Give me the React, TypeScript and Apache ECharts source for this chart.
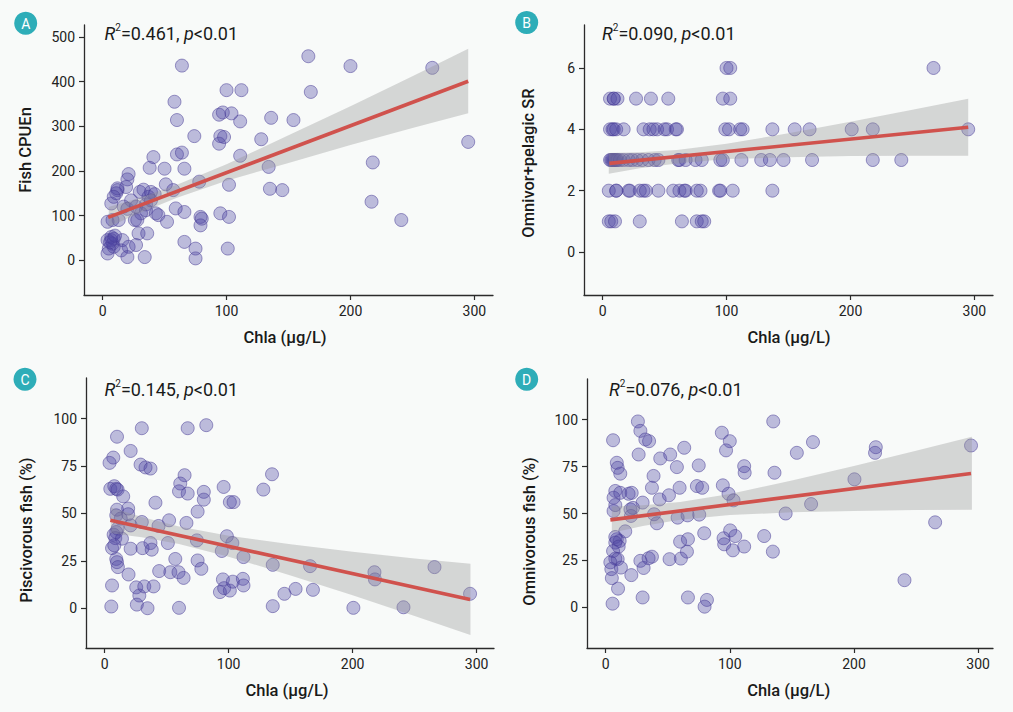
import React, { useEffect, useRef } from "react";
import * as echarts from "echarts";

// ---------- data ----------
const xTicks = [0, 100, 200, 300];
const bandX = [5, 30, 60, 100, 150, 200, 250, 295];

// Panel A: Fish CPUEn vs Chla
const cpueData: [number, number][] = [
  [64, 436], [100, 381], [112, 381], [58, 355], [60, 314], [94, 326], [97, 331], [104, 329], [111, 311], [136, 319],
  [74, 278], [95, 278], [98, 276], [94, 261], [128, 271], [60, 237], [64, 241], [111, 234], [41, 231], [38, 207],
  [50, 205], [66, 205], [134, 209], [21, 193], [20, 181], [19, 164], [78, 176], [102, 169], [135, 160], [145, 157],
  [51, 170], [57, 157], [12, 157], [11, 150], [12, 161], [30, 153], [33, 158], [39, 153], [42, 148], [37, 142],
  [23, 134], [35, 125], [39, 134], [7, 127], [9, 142], [17, 120], [20, 115], [27, 120], [31, 105], [35, 112],
  [43, 105], [45, 101], [52, 86], [4, 86], [8, 90], [13, 90], [26, 90], [28, 90], [59, 116], [66, 108],
  [79, 97], [80, 93], [79, 78], [95, 105], [102, 97], [29, 60], [36, 60], [4, 45], [7, 45], [8, 37],
  [5, 26], [9, 30], [4, 15], [15, 22], [16, 45], [21, 30], [27, 34], [20, 7], [34, 7], [66, 41],
  [75, 26], [75, 4], [101, 26], [7, 52], [9, 48], [6, 40], [10, 55],
  [166, 457], [200, 435], [266, 431], [168, 377], [154, 314], [295, 265], [218, 219], [217, 131], [241, 90],
];
const cpueFit: [number, number][] = [[4.5, 96], [295, 401]];
const cpueLower = [75, 106, 140, 178, 218, 258, 296, 329];
const cpueUpper = [119, 140, 169, 215, 280, 345, 412, 474];
const cpueTicks = [0, 100, 200, 300, 400, 500];

// Panel B: Omnivor+pelagic SR vs Chla
const srLevel6 = [100, 103, 267];
const srLevel5 = [6, 9, 9, 12, 27, 39, 53, 97, 103];
const srLevel4 = [6, 8, 9, 11, 17, 33, 38, 41, 44, 50, 52, 59, 60, 99, 102, 111, 113, 137, 155, 167, 201, 218, 295];
const srLevel3 = [6, 7, 8, 9, 10, 11, 12, 14, 17, 21, 24, 28, 32, 37, 42, 45, 61, 62, 67, 75, 80, 95, 97, 112, 128, 135, 146, 169, 218, 241];
const srLevel2 = [5, 11, 11, 21, 22, 30, 33, 35, 45, 57, 62, 66, 67, 76, 79, 94, 95, 105, 137];
const srLevel1 = [5, 7, 10, 30, 64, 76, 80, 82];
const srFit: [number, number][] = [[5.5, 2.89], [295, 4.07]];
const srLower = [2.55, 2.73, 2.89, 3.03, 3.09, 3.13, 3.14, 3.14];
const srUpper = [3.23, 3.25, 3.33, 3.53, 3.87, 4.25, 4.64, 5.0];
const srTicks = [0, 2, 4, 6];

// Panel C: Piscivorous fish (%) vs Chla
const piscData: [number, number][] = [
  [30, 95], [67, 95], [82, 96.6], [10, 90.5], [21, 83], [7, 79.5], [4, 76.7], [29, 75.8], [33, 74.3], [37, 73.7],
  [64.5, 70.2], [135, 70.7], [4.6, 63], [7.8, 64.4], [9.4, 63], [10.5, 62.6], [61, 65.8], [60, 61.7], [67, 60.5], [80, 61.4],
  [80, 57.3], [128, 62.6], [96, 64], [101, 56], [104, 56], [15, 59], [41, 55.7], [10, 52], [9.4, 49], [19, 52.6],
  [19, 49.6], [13, 47.3], [30, 45.5], [21, 43.7], [43.5, 43.4], [52, 46.4], [75, 51], [66, 45], [7.3, 38.8], [9.4, 40.2],
  [10.5, 42], [8.6, 37], [14, 36.7], [6, 31.7], [7.8, 33.2], [21, 31.4], [30.6, 31.7], [37, 34.4], [38, 30.9], [51, 34.4],
  [74.4, 35.8], [98.6, 38], [103, 34.4], [94.5, 30.2], [112, 27], [9.4, 26], [10, 24.3], [10.7, 21.7], [19.3, 17.8], [44, 19.6],
  [53, 19], [57, 26], [59.6, 19], [63.7, 16], [75, 25.2], [78, 20.8], [135.6, 22.9], [165.7, 22.2], [217.6, 19], [218, 15.2],
  [266, 21.7], [294.7, 7.6], [6, 12], [25.5, 11], [28, 6.7], [26, 1.9], [32, 11.5], [39.5, 11.5], [34.6, 0], [5.4, 0.9],
  [60, 0.2], [95.4, 15.2], [96.4, 10.6], [93, 8.5], [101, 9.3], [103.4, 14], [111.5, 15.5], [112, 12], [145, 7.6], [154, 10.2],
  [168, 9.7], [135.6, 1.1], [200.6, 0.2], [241, 0.5],
];
const piscFit: [number, number][] = [[4.6, 46.4], [294.7, 4.6]];
const piscLower = [39.6, 37.5, 33.9, 27.2, 17.3, 6.8, -4.1, -14.2];
const piscUpper = [53.2, 48.1, 43.1, 38.2, 33.7, 29.8, 26.3, 23.4];
const pctTicks = [0, 25, 50, 75, 100];

// Panel D: Omnivorous fish (%) vs Chla
const omniData: [number, number][] = [
  [26, 99], [28, 94], [135, 99], [6, 89], [32, 89.4], [35, 88.5], [93.6, 93], [100, 88.5], [97, 83.6], [167, 88],
  [154, 82.3], [217.6, 85.3], [217, 82.3], [294.3, 86.2], [26.6, 81.4], [44, 79.3], [52, 81.4], [63.3, 85], [9, 77], [9.7, 74.3],
  [11.8, 71.2], [57.4, 74.7], [75, 75.6], [111.6, 75.2], [112, 71.7], [136, 71.7], [38.6, 70], [37.3, 63.7], [59.6, 63.7], [73.5, 64.6],
  [77.8, 63.7], [94.4, 65], [99, 60.5], [103, 57], [7.8, 62], [6.4, 58.4], [11.8, 61], [18.5, 60.5], [21, 61], [29.8, 55.8],
  [43.5, 57.5], [51, 59.7], [6.4, 51.3], [7.8, 54.5], [20, 52.2], [20.4, 48.7], [22, 53], [39, 49.6], [41.3, 44.8], [58, 47.8],
  [66, 49], [75.4, 49.4], [15.8, 40.5], [200.4, 68.2], [165.5, 55], [145, 50], [265.4, 45.3], [7.8, 37.5], [9, 36.3], [11.3, 35.4],
  [7.8, 34.5], [10.5, 32.4], [6, 30], [7.8, 26], [9.7, 25.7], [3.8, 24], [4.6, 20.4], [5, 15.6], [12.3, 21.2], [20.7, 17.2],
  [10, 10], [5.6, 2], [29.8, 5.3], [28, 24.8], [30.6, 21], [34.6, 26.2], [37.3, 27], [51.5, 25.7], [60.6, 26], [60, 35],
  [65.5, 29.7], [66.3, 36.3], [79.4, 39.5], [95, 36.8], [95.5, 33.6], [100.3, 41], [104.4, 38], [102.5, 30.4], [111.6, 32.4], [127.7, 38],
  [134.7, 29.7], [66.3, 5.3], [81.6, 4], [79.7, 0.4], [240.7, 14.5],
];
const omniFit: [number, number][] = [[3.8, 46.6], [294.3, 71.3]];
const omniLower = [39.7, 43.4, 46.7, 49.2, 50.6, 51.3, 51.8, 52.0];
const omniUpper = [53.7, 54.4, 56.1, 60.4, 67.6, 75.3, 83.4, 90.8];

const srData: [number, number][] = [
  ...srLevel6.map((x) => [x, 6] as [number, number]),
  ...srLevel5.map((x) => [x, 5] as [number, number]),
  ...srLevel4.map((x) => [x, 4] as [number, number]),
  ...srLevel3.map((x) => [x, 3] as [number, number]),
  ...srLevel2.map((x) => [x, 2] as [number, number]),
  ...srLevel1.map((x) => [x, 1] as [number, number]),
];

// ---------- layout / styling ----------
const FONT = "Roboto, 'Noto Sans', sans-serif";
const TEXT = "#1a1a1a";

const panels = [
  {
    letter: "A", data: cpueData, fit: cpueFit, lower: cpueLower, upper: cpueUpper, yTicks: cpueTicks,
    yMin: -78, yMax: 527, xMin: -15, xMax: 315, r2: "0.461", yName: "Fish CPUEn",
    grid: { left: 84, top: 25, width: 409, height: 270 },
    badge: [25.7, 23.3], r2Pos: [104.5, 33.5], yNamePos: [25, 150], xNamePos: [285, 337],
  },
  {
    letter: "B", data: srData, fit: srFit, lower: srLower, upper: srUpper, yTicks: srTicks,
    yMin: -1.4, yMax: 7.4, xMin: -15, xMax: 315, r2: "0.090", yName: "Omnivor+pelagic SR",
    grid: { left: 584, top: 25, width: 409, height: 270 },
    badge: [526.7, 22.5], r2Pos: [602, 33.5], yNamePos: [528.5, 163], xNamePos: [789, 337],
  },
  {
    letter: "C", data: piscData, fit: piscFit, lower: piscLower, upper: piscUpper, yTicks: pctTicks,
    yMin: -21, yMax: 121.5, xMin: -15, xMax: 314, r2: "0.145", yName: "Piscivorous fish (%)",
    grid: { left: 86, top: 378, width: 408, height: 270 },
    badge: [25, 379.3], r2Pos: [104.5, 389], yNamePos: [26, 530], xNamePos: [287, 690.5],
  },
  {
    letter: "D", data: omniData, fit: omniFit, lower: omniLower, upper: omniUpper, yTicks: pctTicks,
    yMin: -21.6, yMax: 121.6, xMin: -15, xMax: 312, r2: "0.076", yName: "Omnivorous fish (%)",
    grid: { left: 587, top: 379, width: 406, height: 269 },
    badge: [526.7, 379.3], r2Pos: [609, 389], yNamePos: [529.3, 531.5], xNamePos: [788.7, 690.5],
  },
];

function buildOption() {
  const grid: any[] = [];
  const xAxis: any[] = [];
  const yAxis: any[] = [];
  const series: any[] = [];
  const graphic: any[] = [];

  panels.forEach((p, i) => {
    grid.push({ ...p.grid, containLabel: false });
    const axisLine = { show: true, onZero: false, lineStyle: { color: "#2b2b2b", width: 1.3 } };
    const labelStyle = { fontSize: 14, color: "#222", fontFamily: FONT };
    xAxis.push({
      gridIndex: i, type: "value", min: p.xMin, max: p.xMax,
      axisLine,
      axisTick: { show: true, length: 5, customValues: xTicks, lineStyle: { color: "#2b2b2b", width: 1.2 } },
      axisLabel: { ...labelStyle, customValues: xTicks, margin: 9 },
      splitLine: { show: false },
    });
    yAxis.push({
      gridIndex: i, type: "value", min: p.yMin, max: p.yMax,
      axisLine,
      axisTick: { show: true, length: 5, customValues: p.yTicks, lineStyle: { color: "#2b2b2b", width: 1.2 } },
      axisLabel: { ...labelStyle, customValues: p.yTicks, margin: 9 },
      splitLine: { show: false },
    });

    series.push({
      type: "scatter", xAxisIndex: i, yAxisIndex: i, data: p.data, symbolSize: 13, silent: true, z: 2,
      itemStyle: { color: "rgba(80,70,165,0.44)", borderColor: "rgba(70,60,150,0.65)", borderWidth: 1 },
    });
    const lower = p.lower;
    const upper = p.upper;
    series.push({
      type: "custom", xAxisIndex: i, yAxisIndex: i, data: [[bandX[0], lower[0]]], silent: true, z: 3,
      renderItem: (_params: any, api: any) => {
        const pts: number[][] = [];
        bandX.forEach((x, k) => pts.push(api.coord([x, upper[k]])));
        for (let k = bandX.length - 1; k >= 0; k--) pts.push(api.coord([bandX[k], lower[k]]));
        return { type: "polygon", shape: { points: pts }, style: { fill: "rgba(150,150,150,0.36)" } };
      },
    });
    series.push({
      type: "line", xAxisIndex: i, yAxisIndex: i, data: p.fit, showSymbol: false, silent: true, z: 4,
      lineStyle: { color: "#d0524d", width: 3.6 },
    });

    // badge
    graphic.push({ type: "circle", shape: { cx: p.badge[0], cy: p.badge[1], r: 11.5 }, style: { fill: "#2eadb8" } });
    graphic.push({
      type: "text", x: p.badge[0], y: p.badge[1] + 0.5,
      style: { text: p.letter, fill: "#ffffff", fontSize: 14, fontFamily: FONT, align: "center", verticalAlign: "middle" },
    });
    // R2 annotation
    graphic.push({
      type: "text", x: p.r2Pos[0], y: p.r2Pos[1],
      style: {
        text: `{i|R}{s|2}{n|=${p.r2}, }{i|p}{n|<0.01}`,
        verticalAlign: "middle", align: "left",
        rich: {
          i: { fontStyle: "italic", fontSize: 18, fontFamily: FONT, fill: TEXT, lineHeight: 22 },
          n: { fontSize: 18, fontFamily: FONT, fill: TEXT, lineHeight: 22 },
          s: { fontSize: 10, fontFamily: FONT, fill: TEXT, lineHeight: 22, verticalAlign: "top" },
        },
      },
    });
    // axis names
    graphic.push({
      type: "text", x: p.yNamePos[0], y: p.yNamePos[1], rotation: Math.PI / 2,
      style: { text: p.yName, fontSize: 16.5, fontWeight: 500, fontFamily: FONT, fill: TEXT, align: "center", verticalAlign: "middle" },
    });
    graphic.push({
      type: "text", x: p.xNamePos[0], y: p.xNamePos[1],
      style: { text: "Chla (μg/L)", fontSize: 16.5, fontWeight: 500, fontFamily: FONT, fill: TEXT, align: "center", verticalAlign: "middle" },
    });
  });

  return {
    animation: false,
    backgroundColor: "#f8faf9",
    grid, xAxis, yAxis, series, graphic,
  };
}

export default function App() {
  const ref = useRef<HTMLDivElement>(null);
  useEffect(() => {
    document.body.style.margin = "0";
    const chart = echarts.init(ref.current!, null, { renderer: "svg" });
    chart.setOption(buildOption() as any);
    return () => chart.dispose();
  }, []);
  return <div ref={ref} style={{ width: 1013, height: 712 }} />;
}
